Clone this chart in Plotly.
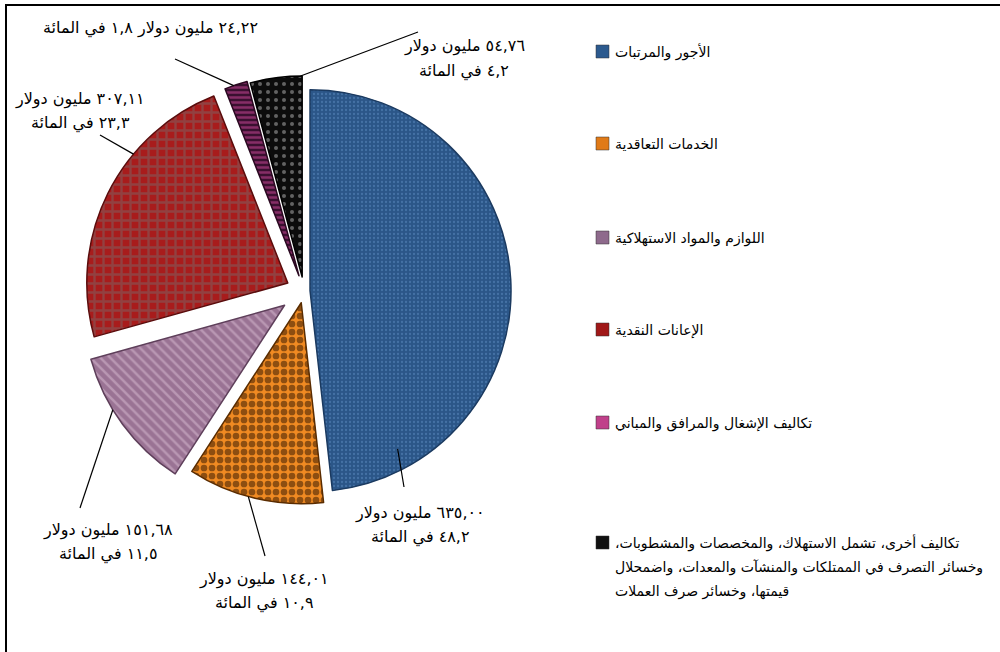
import math
import plotly.graph_objects as go

# ---------------- data ----------------
categories = [
    "الأجور والمرتبات",
    "الخدمات التعاقدية",
    "اللوازم والمواد الاستهلاكية",
    "الإعانات النقدية",
    "تكاليف الإشغال والمرافق والمباني",
    "تكاليف أخرى، تشمل الاستهلاك، والمخصصات والمشطوبات، وخسائر التصرف في الممتلكات والمنشآت والمعدات، واضمحلال قيمتها، وخسائر صرف العملات",
]
# how the long legend entry is wrapped (line texts)
last_legend_lines = [
    "تكاليف أخرى، تشمل الاستهلاك، والمخصصات والمشطوبات،",
    "وخسائر التصرف في الممتلكات والمنشآت والمعدات، واضمحلال",
    "قيمتها، وخسائر صرف العملات",
]
amounts = [635.00, 144.01, 151.68, 307.11, 24.22, 54.76]   # million USD
percents = [48.2, 10.9, 11.5, 23.3, 1.8, 4.2]              # per cent

# ---------------- styles ----------------
bg_colors = ["#2b5688", "#f08a22", "#9a7394", "#a81c1c", "#3a1030", "#0c0c0c"]
fg_colors = ["#5e8cc2", "#2a1200", "#d8bcd2", "#7a6666", "#d24a9c", "#b8b8b8"]
shapes_p = [".", ".", "\\", "+", "-", "."]
sizes_p = [4, 8, 7, 9, 5, 8]
solid_p = [0.25, 0.55, 0.35, 0.45, 0.5, 0.2]
edge_colors = ["#1b3a60", "#5a2c00", "#5e3f5a", "#5a0c0c", "#2a0820", "#000000"]
legend_colors = ["#2c5a8e", "#e07a18", "#8e6a8c", "#a01818", "#c0408a", "#111111"]
pulls = [0.03, 0.06, 0.12, 0.09, 0.08, 0.07]

FONT = "DejaVu Sans"
RLM = "\u200f"

W, H = 1000, 652
CX, CY, R = 304, 291, 201          # desired pie centre / radius in px
box = 2 * R * (1 + max(pulls))
dom_x = [(CX - box / 2) / W, (CX + box / 2) / W]
dom_y = [1 - (CY + box / 2) / H, 1 - (CY - box / 2) / H]


def px(x):
    return x / W


def py(y):
    return 1 - y / H


fig = go.Figure()
fig.add_trace(go.Pie(
    labels=categories,
    values=amounts,
    sort=False,
    direction="clockwise",
    rotation=0,
    pull=pulls,
    textinfo="none",
    hoverinfo="label+value+percent",
    showlegend=False,
    domain=dict(x=dom_x, y=dom_y),
    marker=dict(
        colors=bg_colors,
        line=dict(color=edge_colors, width=1.5),
        pattern=dict(shape=shapes_p, fgcolor=fg_colors, bgcolor=bg_colors,
                     size=sizes_p, solidity=solid_p, fillmode="overlay"),
    ),
))

# ---------------- data labels with leader lines ----------------
AR = str.maketrans("0123456789", "٠١٢٣٤٥٦٧٨٩")


def ar(v, nd):
    return f"{v:.{nd}f}".replace(".", ",").translate(AR)


label_lines = []
for i, (a, p) in enumerate(zip(amounts, percents)):
    if i == 4:
        label_lines.append([f"{ar(a, 2)} مليون دولار {ar(p, 1)} في المائة"])
    else:
        label_lines.append([f"{ar(a, 2)} مليون دولار", f"{ar(p, 1)} في المائة"])

# leader line: where it touches each slice (fraction of slice angle, fraction of radius)
lead_frac = [0.87, 0.55, 0.62, 0.66, 0.40, 0.97]
lead_rad = [0.9, 1.0, 1.0, 1.0, 1.0, 1.0]
# leader line outer ends (px)
lead_tail = [(404, 487), (265, 556), (80, 508), (100, 135), (175, 59), (418, 32)]
# label text centres (px): x, first-line y
label_pos = [(420, 513), (264, 579), (108, 530), (80, 99), (150, 28), (464, 46)]
LINE_GAP = 24

total = sum(amounts)
start = 0.0
for i, a in enumerate(amounts):
    span = 360.0 * a / total
    mid = math.radians(start + span / 2)
    th = math.radians(start + span * lead_frac[i])
    off = pulls[i] * R
    hx = CX + off * math.sin(mid) + lead_rad[i] * R * math.sin(th)
    hy = CY - off * math.cos(mid) - lead_rad[i] * R * math.cos(th)
    tx, ty = lead_tail[i]
    fig.add_shape(type="line", xref="paper", yref="paper",
                  x0=px(hx), y0=py(hy), x1=px(tx), y1=py(ty),
                  line=dict(color="black", width=1.2))
    lx, ly = label_pos[i]
    gap = 25 if i == 5 else LINE_GAP
    for j, line in enumerate(label_lines[i]):
        fig.add_annotation(
            x=px(lx), y=py(ly + j * gap), xref="paper", yref="paper",
            xanchor="center", yanchor="middle", text=line, showarrow=False,
            borderpad=0,
            font=dict(family=FONT, size=16, color="black"),
        )
    start += span

# ---------------- legend (drawn manually) ----------------
legend_y = [52, 144, 238, 330, 423, 543]
for i, c in enumerate(categories):
    y = legend_y[i]
    fig.add_shape(type="rect", xref="paper", yref="paper",
                  x0=px(596), x1=px(609), y0=py(y + 6), y1=py(y - 7),
                  fillcolor=legend_colors[i], line=dict(color="#333333", width=0.5))
    lines = last_legend_lines if i == len(categories) - 1 else [c]
    for j, line in enumerate(lines):
        fig.add_annotation(
            x=px(614), y=py(y + j * 24), xref="paper", yref="paper",
            xanchor="left", yanchor="middle",
            text=line + RLM, showarrow=False, borderpad=0,
            font=dict(family=FONT, size=14, color="black"),
        )

# ---------------- frame ----------------
fig.add_shape(type="rect", xref="paper", yref="paper",
              x0=px(6), x1=1.01, y0=-0.02, y1=py(5),
              line=dict(color="black", width=2), fillcolor="rgba(0,0,0,0)")

fig.update_layout(
    width=W, height=H,
    margin=dict(l=0, r=0, t=0, b=0),
    paper_bgcolor="white", plot_bgcolor="white",
    showlegend=False,
)

fig.write_html("out.html")
